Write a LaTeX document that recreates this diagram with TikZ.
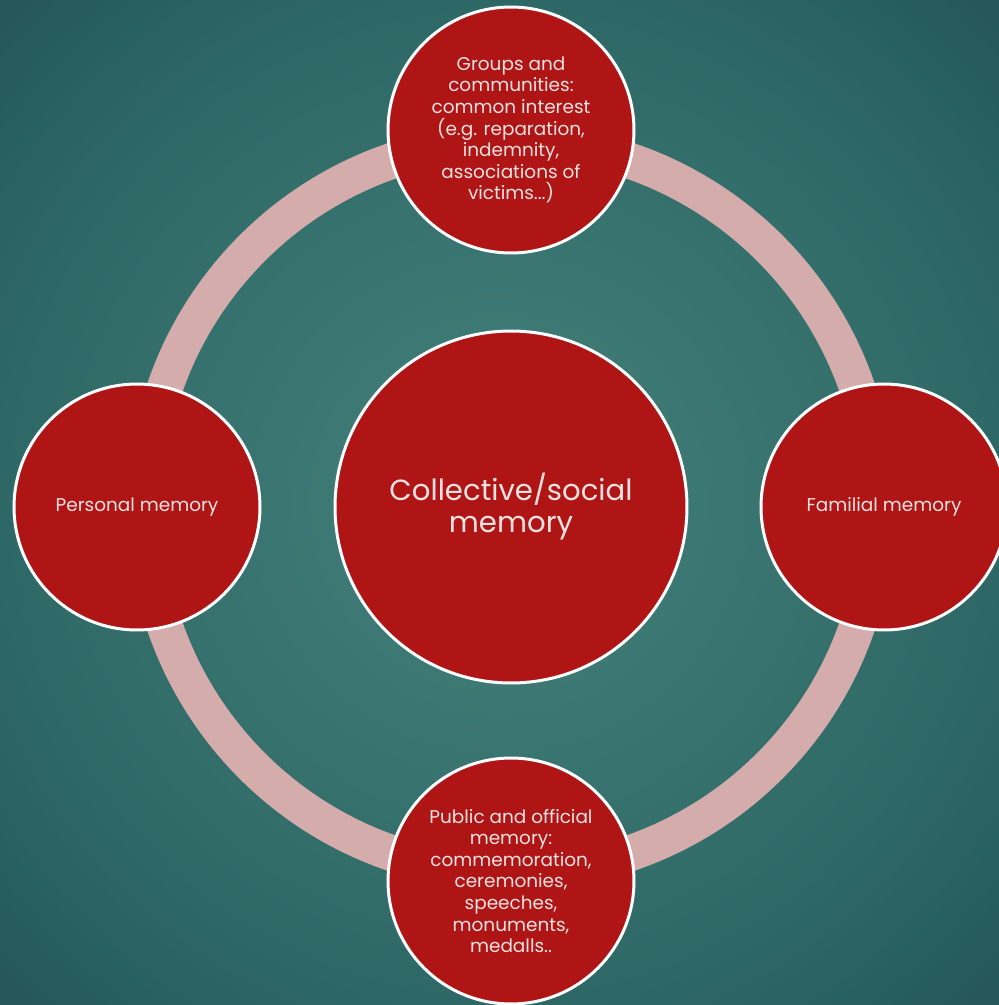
\documentclass[tikz,border=0pt]{standalone}
\usepackage{fontspec}
\setmainfont{Poppins}
\definecolor{bgin}{HTML}{46827B}
\definecolor{bgmid}{HTML}{2D6866}
\definecolor{bgout}{HTML}{245558}
\definecolor{ringpink}{HTML}{D4ACAC}
\definecolor{memred}{HTML}{B01515}
\definecolor{memtext}{HTML}{F4E2E2}
\pgfdeclareradialshading{memback}{\pgfpoint{0bp}{0bp}}{color(0bp)=(bgin); color(25bp)=(bgmid); color(36bp)=(bgout); color(50bp)=(bgout)}
\tikzset{
  memball/.style={circle, draw=white, line width=1.7pt, fill=memred,
    minimum size=4.92cm, inner sep=0pt, text=memtext, align=center,
    font=\fontsize{10.5}{12.3}\selectfont},
  bigball/.style={memball, minimum size=7.04cm,
    font=\fontsize{16.6}{18.2}\selectfont}
}
\begin{document}
\begin{tikzpicture}[x=0.02cm, y=-0.02cm]

% background
\shade[shading=memback] (0,0) rectangle (999,1005);
\useasboundingbox (0,0) rectangle (999,1005);

% the ring
\coordinate (mid) at (511,507);
\draw[ringpink, line width=20.5pt] (mid) circle (366);

% the memories
\node[bigball] (collective) at (mid) {Collective/social\\memory};
\node[memball] (groups) at (511,130) {Groups and\\communities:\\common interest\\(e.g. reparation,\\indemnity,\\associations of\\victims...)};
\node[memball] (personal) at (137,507) {Personal memory};
\node[memball] (familial) at (884,507) {Familial memory};
\node[memball] (public) at (511,881) {Public and official\\memory:\\commemoration,\\ceremonies,\\speeches,\\monuments,\\medalls..};

\end{tikzpicture}
\end{document}
